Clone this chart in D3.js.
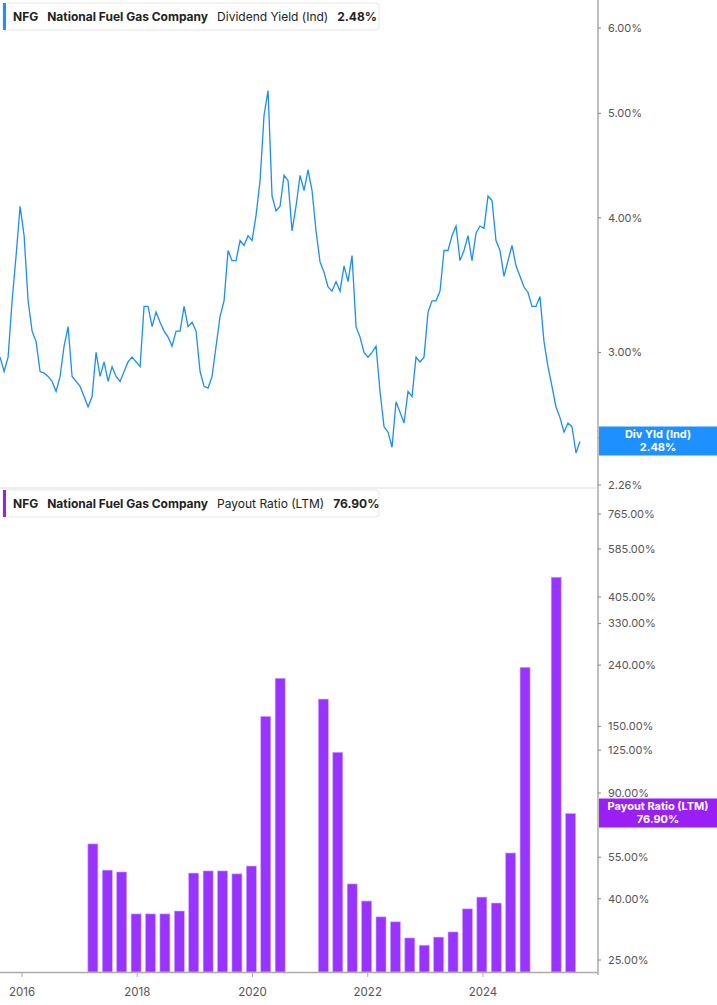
<!DOCTYPE html>
<html>
<head>
<meta charset="utf-8">
<script src="https://cdn.jsdelivr.net/npm/d3@7"></script>
<style>
  body { margin: 0; background: #fff; font-family: Inter, "Noto Sans", sans-serif; }
  svg text { font-family: Inter, "Noto Sans", sans-serif; }
</style>
</head>
<body>
<svg id="chart" width="717" height="1005"></svg>
<script>
// dividend yield (%), sampled about every 3.6 weeks from mid 2015
var yldStart = 2015.62, yldStep = 0.0694;
var yldValues = [2.97,2.88,2.97,3.35,3.69,4.10,3.85,3.35,3.14,3.07,2.88,2.87,2.85,2.82,2.76,2.85,3.04,3.17,2.85,2.82,
  2.79,2.73,2.67,2.73,3.00,2.85,2.94,2.82,2.91,2.85,2.82,2.88,2.94,2.97,2.94,2.91,3.31,3.31,3.17,3.27,
  3.20,3.14,3.10,3.04,3.14,3.14,3.31,3.17,3.20,3.14,2.88,2.79,2.78,2.85,3.04,3.24,3.35,3.73,3.65,3.65,
  3.81,3.77,3.85,3.81,4.02,4.33,4.98,5.25,4.19,4.06,4.10,4.38,4.33,3.89,4.10,4.38,4.24,4.43,4.24,3.89,
  3.64,3.56,3.45,3.42,3.49,3.42,3.61,3.49,3.69,3.17,3.10,3.00,2.97,3.00,3.04,2.76,2.56,2.53,2.45,2.70,
  2.64,2.58,2.76,2.73,2.97,2.94,2.97,3.27,3.35,3.35,3.42,3.73,3.73,3.85,3.93,3.65,3.73,3.85,3.65,3.87,
  3.93,3.91,4.19,4.15,3.81,3.73,3.53,3.65,3.77,3.61,3.53,3.45,3.41,3.31,3.31,3.38,3.07,2.91,2.79,2.67,
  2.61,2.53,2.58,2.56,2.42,2.48];

// payout ratio (LTM, %), quarterly; null = no value
var payQuarters = [2017.23,2017.48,2017.73,2017.98,2018.23,2018.48,2018.73,2018.98,2019.23,2019.48,2019.73,2019.98,2020.23,2020.48,
  2020.73,2020.98,2021.23,2021.48,2021.73,2021.98,2022.23,2022.48,2022.73,2022.98,2023.23,2023.48,2023.73,2023.98,
  2024.23,2024.48,2024.73,2025.02,2025.27,2025.52];
var payValues = [60.9,49.8,49.1,35.6,35.6,35.6,36.4,48.7,49.5,49.5,48.4,51.4,162,217,
  null,null,185,123,44.8,39.3,34.8,33.5,29.6,28.0,29.8,31.0,37.0,40.5,
  38.7,56.8,236,null,471,76.9];

var yearTicks = [2016, 2018, 2020, 2022, 2024];
var yldTicks = [2.26, 3, 4, 5, 6];
var yldHiddenTicks = [2.5];   // sits under the value tag
var payTicks = [25, 40, 55, 90, 125, 150, 240, 330, 405, 585, 765];

var svg = d3.select("#chart");
var axisX = 598;
var x = d3.scaleLinear().domain([2016, 2024]).range([22, 483]);
var yTop = d3.scaleLog().domain([2.26, 6]).range([485, 28]);
var yBot = d3.scaleLog().domain([25, 765]).range([960, 514]);

// right axes
svg.append("line").attr("x1", axisX).attr("x2", axisX).attr("y1", 0).attr("y2", 975)
  .attr("stroke", "#aaa").attr("stroke-width", 1.5);
svg.append("line").attr("x1", 0).attr("x2", axisX).attr("y1", 488).attr("y2", 488)
  .attr("stroke", "#ddd");

function drawTicks(scale, ticks, withText) {
  var g = svg.append("g");
  ticks.forEach(function(t) {
    g.append("line").attr("x1", axisX).attr("x2", axisX + 3)
      .attr("y1", scale(t)).attr("y2", scale(t)).attr("stroke", "#888");
    if (withText) g.append("text").attr("x", 608).attr("y", scale(t)).attr("dy", "0.35em")
      .attr("font-size", 11).attr("fill", "#555").text(t.toFixed(2) + "%");
  });
}
drawTicks(yTop, yldTicks, true);
drawTicks(yTop, yldHiddenTicks, false);
drawTicks(yBot, payTicks, true);

// dividend yield line
var line = d3.line()
  .x(function(d, i) { return x(yldStart + i * yldStep); })
  .y(function(d) { return yTop(d); });
svg.append("path").datum(yldValues).attr("d", line)
  .attr("fill", "none").attr("stroke", "#1a8cff").attr("stroke-width", 1.3);

// payout bars
var bars = payQuarters.map(function(q, i) { return { q: q, v: payValues[i] }; })
  .filter(function(d) { return d.v != null; });
svg.selectAll("rect.bar").data(bars).enter().append("rect")
  .attr("class", "bar")
  .attr("x", function(d) { return x(d.q) - 5; })
  .attr("width", 10)
  .attr("y", function(d) { return yBot(d.v); })
  .attr("height", function(d) { return 972 - yBot(d.v); })
  .attr("fill", "#9933ff").attr("stroke", "#cfa6ff").attr("stroke-width", 0.6);

// bottom axis
svg.append("line").attr("x1", 0).attr("x2", axisX).attr("y1", 972.5).attr("y2", 972.5)
  .attr("stroke", "#aaa").attr("stroke-width", 1.5);
yearTicks.forEach(function(yr) {
  svg.append("line").attr("x1", x(yr)).attr("x2", x(yr)).attr("y1", 972).attr("y2", 977).attr("stroke", "#aaa");
  svg.append("text").attr("x", x(yr)).attr("y", 996).attr("text-anchor", "middle")
    .attr("font-size", 11.5).attr("fill", "#555").text(yr);
});

// value tags on the axis
function tag(yMid, color, label, value) {
  svg.append("rect").attr("x", axisX + 1).attr("y", yMid - 14.5).attr("width", 717 - axisX).attr("height", 29).attr("fill", color);
  svg.append("text").attr("x", 658).attr("y", yMid - 3).attr("text-anchor", "middle")
    .attr("font-size", 11).attr("font-weight", "bold").attr("fill", "#fff").text(label);
  svg.append("text").attr("x", 658).attr("y", yMid + 10).attr("text-anchor", "middle")
    .attr("font-size", 11).attr("font-weight", "bold").attr("fill", "#fff").text(value);
}
tag(441, "#1e90ff", "Div Yld (Ind)", "2.48%");
tag(813, "#9a1ff5", "Payout Ratio (LTM)", "76.90%");

// legend boxes
function legend(y0, color, metric, value, w) {
  var g = svg.append("g").attr("transform", "translate(3," + y0 + ")");
  g.append("rect").attr("width", w).attr("height", 27).attr("rx", 3)
    .attr("fill", "#fff").attr("stroke", "#e6e6e6");
  g.append("rect").attr("width", 3).attr("height", 27).attr("fill", color);
  var t = g.append("text").attr("x", 10).attr("y", 18).attr("font-size", 12).attr("fill", "#222");
  t.append("tspan").attr("font-weight", "bold").text("NFG");
  t.append("tspan").attr("dx", 9).attr("font-weight", "bold").text("National Fuel Gas Company");
  t.append("tspan").attr("dx", 9).text(metric);
  t.append("tspan").attr("dx", 9).attr("font-weight", "bold").text(value);
}
legend(3, "#1e90ff", "Dividend Yield (Ind)", "2.48%", 376);
legend(490, "#9a1ff5", "Payout Ratio (LTM)", "76.90%", 376);
</script>
</body>
</html>
